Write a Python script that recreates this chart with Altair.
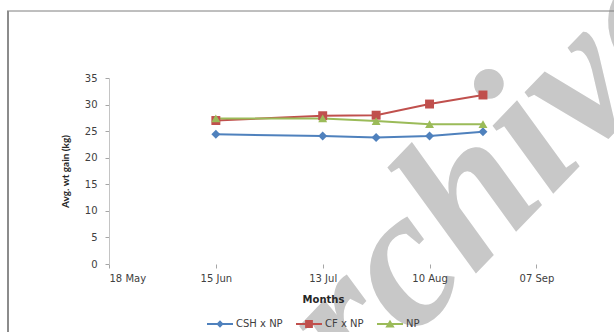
import altair as alt
import pandas as pd

# Sampling dates and average weight gain (kg) per treatment group
dates = ["2013-06-15", "2013-07-13", "2013-07-27", "2013-08-10", "2013-08-24"]
csh_np = [24.4, 24.1, 23.8, 24.1, 24.9]
cf_np = [27.0, 27.9, 28.0, 30.1, 31.8]
np_only = [27.4, 27.4, 26.9, 26.3, 26.3]

series_names = ["CSH x NP", "CF x NP", "NP"]
series_colors = ["#4F81BD", "#C0504D", "#9BBB59"]
tick_dates = ["2013-05-18", "2013-06-15", "2013-07-13", "2013-08-10", "2013-09-07"]
y_ticks = [0, 5, 10, 15, 20, 25, 30, 35]

rows = []
for name, vals in zip(series_names, [csh_np, cf_np, np_only]):
    for d, v in zip(dates, vals):
        rows.append({"date": d, "gain": v, "series": name})
df = pd.DataFrame(rows)


def ms(s):
    return int(pd.Timestamp(s, tz="UTC").value // 10**6)


x_domain = [ms("2013-05-18"), ms("2013-09-27T08:00")]
tick_ms = [ms(t) for t in tick_dates]

W, H = 505, 186
LEFT, TOP = 109, 78

x_enc = alt.X(
    "date:T",
    scale=alt.Scale(type="utc", domain=x_domain),
    axis=alt.Axis(
        values=tick_ms, format="%d %b", title="Months", domain=False,
        ticks=True, tickSize=4, tickColor="#a6a6a6", labelPadding=5,
        labelFont="DejaVu Sans", labelFontSize=10, labelColor="#404040",
        grid=False, titleFont="DejaVu Sans", titleFontSize=10,
        titleFontWeight="bold", titleColor="#262626",
        titleX=214, titleY=35, titleBaseline="middle", zindex=1,
    ),
)
y_enc = alt.Y(
    "gain:Q",
    scale=alt.Scale(domain=[0, 35], nice=False, zero=True),
    axis=alt.Axis(
        values=y_ticks, tickCount=8, labelOverlap=False,
        title="Avg. wt gain (kg)", grid=False,
        domainColor="#c4c4c4", tickColor="#a6a6a6", tickSize=4,
        labelPadding=8, labelFont="DejaVu Sans", labelFontSize=10,
        labelColor="#404040", titleFont="Lato", titleFontSize=10,
        titleFontWeight="bold", titleColor="#262626",
        titleX=-44, titleY=H / 2, titleAngle=270, titleAlign="center",
        titleBaseline="middle", zindex=1,
    ),
)

color_scale = alt.Scale(domain=series_names, range=series_colors)

# Watermark sitting behind the chart
mark_df = pd.DataFrame({"t": ["Archive"]})
watermark = alt.Chart(mark_df).mark_text(
    font="Liberation Serif", fontStyle="italic", fontWeight="bold",
    fontSize=198, color="#c8c8c8", align="left", baseline="alphabetic",
    angle=314,
).encode(text="t:N", x=alt.value(158), y=alt.value(412))

# Outer chart frame (top and left edges)
frame_df = pd.DataFrame({"k": [0]})
frame_top = alt.Chart(frame_df).mark_rule(color="#7f7f7f", strokeWidth=1).encode(
    x=alt.value(-102), x2=alt.value(W + 10), y=alt.value(-67)
)
frame_left = alt.Chart(frame_df).mark_rule(color="#8c8c8c", strokeWidth=2).encode(
    x=alt.value(-101), y=alt.value(-67), y2=alt.value(H + 80)
)

lines = alt.Chart(df).mark_line(strokeWidth=2).encode(
    x=x_enc, y=y_enc,
    color=alt.Color("series:N", scale=color_scale, legend=None),
    detail="series:N",
)
points = alt.Chart(df).mark_point(filled=True, size=80, opacity=1).encode(
    x=x_enc, y=y_enc,
    color=alt.Color("series:N", scale=color_scale, legend=None),
    shape=alt.Shape(
        "series:N",
        scale=alt.Scale(domain=series_names, range=["diamond", "square", "triangle-up"]),
        legend=None,
    ),
)

# Legend symbols: a short line with the marker in the middle
legend_paths = [
    "M-1,-0.08L1,-0.08L1,0.08L-1,0.08ZM0,-0.28L0.28,0L0,0.28L-0.28,0Z",
    "M-1,-0.08L1,-0.08L1,0.08L-1,0.08ZM-0.3,-0.3L0.3,-0.3L0.3,0.3L-0.3,0.3Z",
    "M-1,-0.08L1,-0.08L1,0.08L-1,0.08ZM0,-0.32L0.36,0.26L-0.36,0.26Z",
]
leg = alt.Legend(
    title=None, orient="none", legendX=98, legendY=233, direction="horizontal",
    symbolSize=676, symbolOpacity=1, symbolStrokeWidth=0, labelOffset=3,
    columnPadding=13, padding=0, labelFont="DejaVu Sans", labelFontSize=10,
    labelColor="#404040", zindex=2,
)
legend_layer = alt.Chart(df).mark_point(filled=True, opacity=0).encode(
    x=x_enc, y=y_enc,
    color=alt.Color("series:N", scale=color_scale, legend=leg),
    shape=alt.Shape(
        "series:N", scale=alt.Scale(domain=series_names, range=legend_paths),
        legend=leg,
    ),
)

chart = (
    alt.layer(watermark, frame_top, frame_left, lines, points, legend_layer)
    .resolve_scale(color="independent", shape="independent")
    .properties(
        width=W, height=H,
        autosize=alt.AutoSizeParams(type="none"),
        padding={"left": LEFT, "top": TOP, "right": 614 - LEFT - W, "bottom": 332 - TOP - H},
        background="white",
    )
    .configure_view(stroke=None)
)

chart.save("out.html", embed_options={"renderer": "svg", "actions": False})
